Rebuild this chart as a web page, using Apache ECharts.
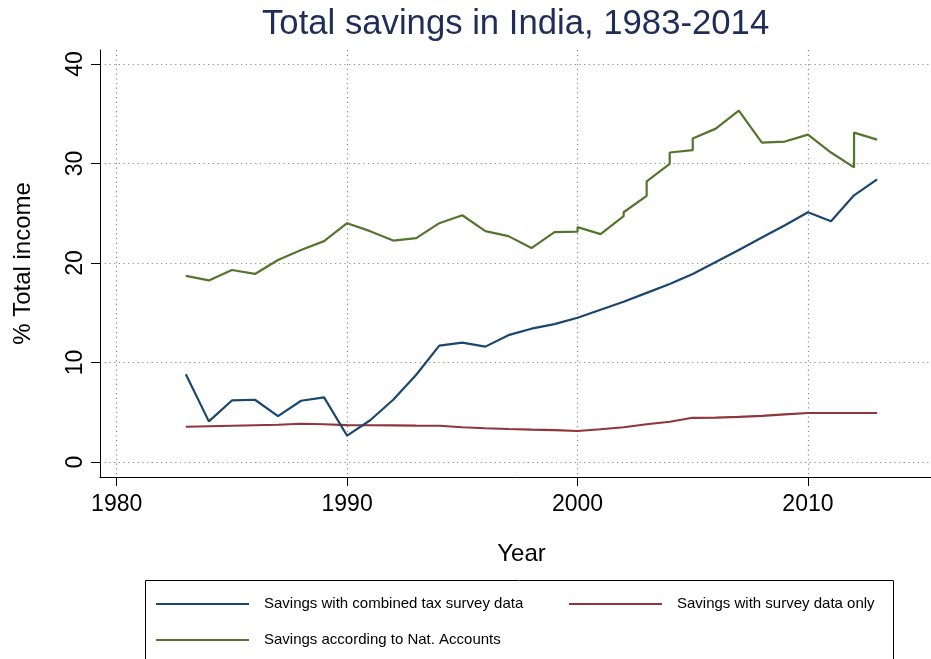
<!DOCTYPE html>
<html>
<head>
<meta charset="utf-8">
<script src="https://cdn.jsdelivr.net/npm/echarts@6/dist/echarts.min.js"></script>
<style>html,body{margin:0;padding:0;background:#fff}#c{width:931px;height:659px}</style>
</head>
<body>
<div id="c"></div>
<script>
// ---- data ----
var years = [1983,1984,1985,1986,1987,1988,1989,1990,1991,1992,1993,1994,1995,1996,1997,1998,1999,2000,2001,2002,2003,2004,2005,2006,2007,2008,2009,2010,2011,2012,2013];
var combinedTax = [8.83,4.09,6.19,6.26,4.62,6.16,6.5,2.65,4.2,6.26,8.77,11.7,12.0,11.6,12.75,13.4,13.86,14.5,15.3,16.1,17.0,17.9,18.9,20.1,21.3,22.56,23.8,25.1,24.2,26.8,28.4];
var surveyOnly = [3.55,3.6,3.65,3.7,3.75,3.85,3.8,3.72,3.7,3.68,3.66,3.65,3.5,3.4,3.32,3.25,3.2,3.12,3.3,3.5,3.8,4.05,4.45,4.47,4.55,4.65,4.8,4.93,4.93,4.93,4.93];
var natYears = [1983,1984,1985,1986,1987,1988,1989,1990,1991,1992,1993,1994,1995,1996,1997,1998,1999,2000,2000,2001,2002,2002,2003,2003,2004,2004,2005,2005,2006,2007,2008,2009,2010,2011,2012,2012,2013];
var natAccounts = [18.7,18.25,19.3,18.9,20.3,21.3,22.2,24.0,23.2,22.25,22.5,24.0,24.8,23.2,22.7,21.5,23.1,23.15,23.6,22.9,24.7,25.1,26.75,28.2,29.95,31.1,31.35,32.5,33.5,35.3,32.1,32.2,32.9,31.1,29.6,33.1,32.4];
var xTicks = [1980,1990,2000,2010];
var yTicks = [0,10,20,30,40];
var seriesNames = ['Savings with combined tax survey data','Savings with survey data only','Savings according to Nat. Accounts'];
var titleText = 'Total savings in India, 1983-2014';

function pairs(xs, ys){ return xs.map(function(x,i){ return [x, ys[i]]; }); }

var FONT = '"Liberation Sans", Arial, Helvetica, sans-serif';
var chart = echarts.init(document.getElementById('c'), null, {renderer:'canvas'});
var gridLine = {show:true, lineStyle:{color:'#8a8a8a', width:1.2, type:[1.2,3.5]}};
var legendBase = {
  orient:'horizontal', padding:0, icon:'rect', itemWidth:93, itemHeight:2,
  selectedMode:false,
  textStyle:{fontFamily:FONT, fontSize:15, color:'#000', padding:[0,0,0,10], lineHeight:18}
};
chart.setOption({
  backgroundColor:'#fff',
  animation:false,
  title:{
    text:titleText, left:262, top:7, padding:0,
    textStyle:{fontFamily:FONT, fontSize:34.7, fontWeight:'normal', color:'#1f2d57'}
  },
  legend:[
    Object.assign({}, legendBase, {data:[seriesNames[0]], left:156, top:595}),
    Object.assign({}, legendBase, {data:[seriesNames[1]], left:569, top:595}),
    Object.assign({}, legendBase, {data:[seriesNames[2]], left:156, top:631})
  ],
  graphic:[{
    type:'rect', silent:true,
    shape:{x:145.5, y:580.5, width:748, height:120},
    style:{fill:'none', stroke:'#000', lineWidth:1}
  }],
  grid:{left:100, right:0, top:50, bottom:182, containLabel:false, outerBoundsMode:'none'},
  xAxis:{
    type:'value', min:1979.275, max:2015.34,
    name:'Year', nameLocation:'middle', nameGap:65,
    nameTextStyle:{fontFamily:FONT, fontSize:24, color:'#000', padding:[0,0,0,12]},
    axisLine:{show:true, onZero:false, lineStyle:{color:'#000', width:1}},
    axisTick:{show:true, length:9, customValues:xTicks, lineStyle:{color:'#000', width:1}},
    axisLabel:{customValues:xTicks, fontFamily:FONT, fontSize:23, color:'#000', margin:16,
      formatter:function(v){return String(v);}},
    splitLine:gridLine
  },
  yAxis:{
    type:'value', min:-1.5, max:41.4,
    name:'% Total income', nameLocation:'middle', nameGap:65, nameRotate:90,
    nameTextStyle:{fontFamily:FONT, fontSize:24, color:'#000'},
    axisLine:{show:true, onZero:false, lineStyle:{color:'#000', width:1}},
    axisTick:{show:true, length:9, customValues:yTicks, lineStyle:{color:'#000', width:1}},
    axisLabel:{customValues:yTicks, rotate:90, fontFamily:FONT, fontSize:23, color:'#000', margin:13},
    splitLine:gridLine
  },
  series:[
    {name:seriesNames[0], type:'line', data:pairs(years, combinedTax), symbol:'none',
      color:'#1a476f', lineStyle:{color:'#1a476f', width:2.2}, z:3},
    {name:seriesNames[1], type:'line', data:pairs(years, surveyOnly), symbol:'none',
      color:'#90353b', lineStyle:{color:'#90353b', width:2.2}, z:2},
    {name:seriesNames[2], type:'line', data:pairs(natYears, natAccounts), symbol:'none',
      color:'#55752f', lineStyle:{color:'#55752f', width:2.2}, z:4}
  ]
});
</script>
</body>
</html>
